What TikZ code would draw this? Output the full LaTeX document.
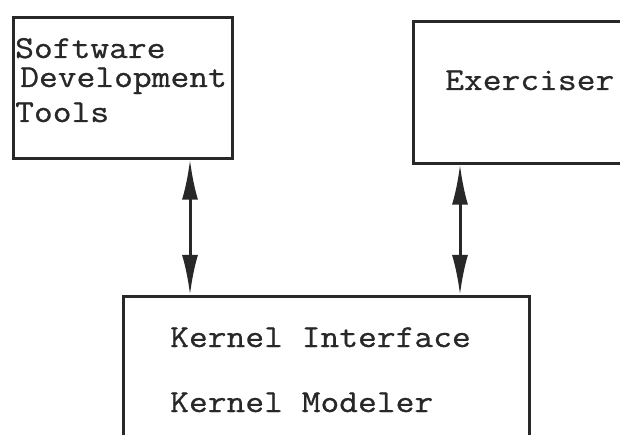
\documentclass[tikz,border=0pt]{standalone}
\usepackage{fontspec}
\setmonofont{Latin Modern Mono}[FakeStretch=1.14, FakeBold=0.8]
\usetikzlibrary{arrows.meta,positioning}
\definecolor{cInk}{RGB}{40,40,40}

\begin{document}
\begin{tikzpicture}[
  x=1pt, y=-1pt,
  box/.style={rectangle, draw=cInk, line width=2.6pt, inner sep=0pt,
    anchor=north west},
  lbl/.style={font=\ttfamily\fontsize{32pt}{38pt}\selectfont, text=cInk,
    inner sep=0pt, anchor=base west},
  ar/.style={{Latex[length=40pt,width=16pt]}-{Latex[length=40pt,width=16pt]},
    line width=3pt, draw=cInk}]
\useasboundingbox (0,0) rectangle (620,435);
\clip (0,0) rectangle (620,435);
% the three blocks
\node[box, minimum width=219pt, minimum height=141pt] (tools) at (12,16) {};
\node[box, minimum width=230pt, minimum height=142pt] (exer) at (412,20) {};
\node[box, minimum width=406pt, minimum height=170pt] (kernel) at (122,295) {};
% their texts
\node[lbl] (t1) at (15,58) {Software};
\node[lbl] (t2) at (20,87) {Development};
\node[lbl] (t3) at (15,122) {Tools};
\node[lbl] (ex) at (445,90) {Exerciser};
\node[lbl] (ki) at (170,347) {Kernel Interface};
\node[lbl] (km) at (170,412) {Kernel Modeler};
% links to the kernel
\coordinate (la) at (190,0);
\coordinate (ra) at (460,0);
\draw[ar] (tools.south -| la) -- (kernel.north -| la);
\draw[ar] (exer.south -| ra) -- (kernel.north -| ra);
\end{tikzpicture}
\end{document}
